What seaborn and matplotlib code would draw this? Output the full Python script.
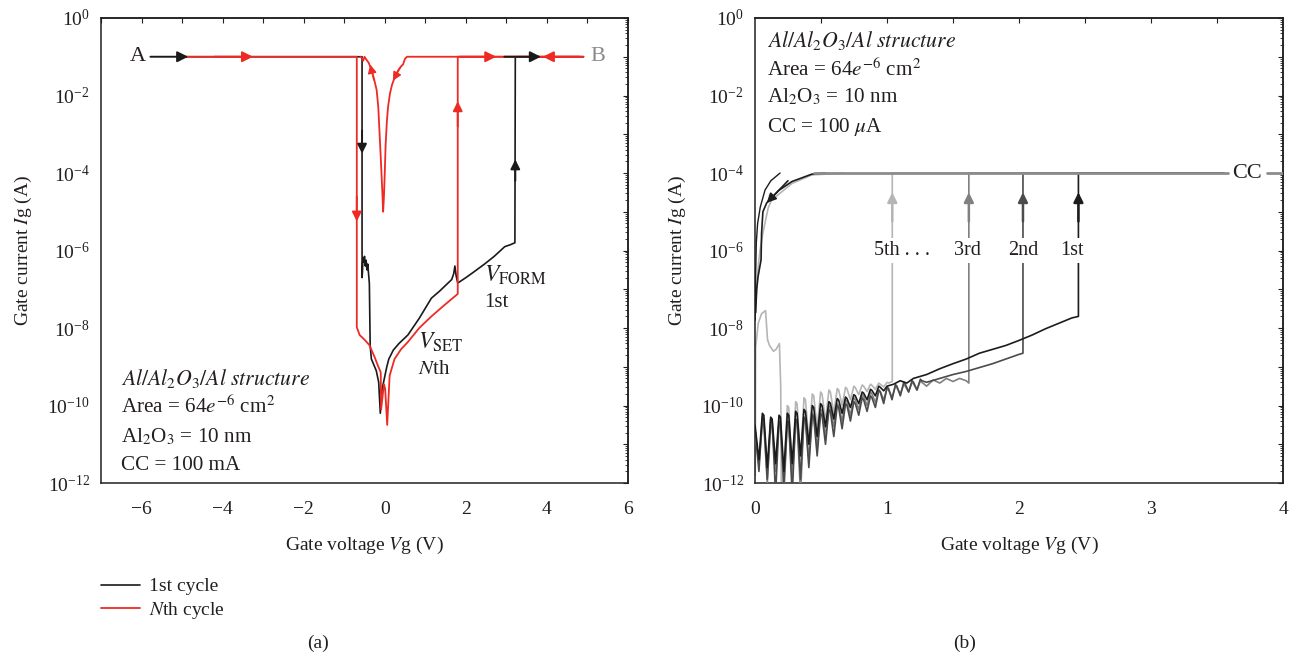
import numpy as np
import pandas as pd
import matplotlib
matplotlib.use("Agg")
import matplotlib.pyplot as plt
import seaborn as sns
from matplotlib.ticker import FixedLocator, LogLocator, NullFormatter, LogFormatterSciNotation

# ---------------- panel (a): bipolar I-V sweeps (log10 of current) ----------------
first_a_v = [-4.9, -0.56, -0.56, -0.55, -0.54, -0.52, -0.50, -0.48, -0.46, -0.44, -0.42, -0.40, -0.38,
             -0.36, -0.33, -0.27, -0.21, -0.15, -0.11, -0.07, -0.02, 0.05, 0.10, 0.21, 0.35, 0.57,
             0.85, 1.15, 1.35, 1.55, 1.65, 1.70, 1.73, 1.76, 1.80, 2.00, 2.20, 2.46, 2.70, 2.96,
             3.10, 3.21, 3.22, 4.9]
first_a_log = [-1.0, -1.0, -6.7, -6.55, -6.2, -6.3, -6.15, -6.4, -6.25, -6.5, -6.35, -6.6, -6.85,
               -8.45, -8.8, -8.95, -9.1, -9.4, -10.2, -9.6, -9.35, -9.0, -8.8, -8.57, -8.4, -8.18,
               -7.75, -7.23, -7.05, -6.85, -6.75, -6.6, -6.4, -6.65, -6.84, -6.7, -6.55, -6.35, -6.15, -5.9,
               -5.85, -5.8, -1.0, -1.0]

nth_a_v = [-4.9, -0.69, -0.69, -0.62, -0.50, -0.38, -0.25, -0.17, -0.10, -0.09, -0.02, 0.01, 0.06,
           0.12, 0.24, 0.40, 0.57, 0.85, 1.15, 1.48, 1.80, 1.80, 4.9]
nth_a_log = [-1.0, -1.0, -7.98, -8.18, -8.3, -8.44, -8.75, -8.97, -9.14, -10.1, -9.45, -9.57, -10.5,
             -9.23, -8.8, -8.55, -8.36, -8.0, -7.7, -7.4, -7.12, -1.0, -1.0]

# return sweep of the Nth cycle from B through zero bias (low-resistance state)
dip_a_v = [4.9, 0.55, 0.50, 0.45, 0.40, 0.33, 0.25, 0.18, 0.13, 0.08, 0.05, 0.02, 0.0, -0.02, -0.04,
           -0.06, -0.09, -0.12, -0.16, -0.20, -0.27, -0.33, -0.40, -0.45, -0.50, -0.53, -0.56, -0.60]
dip_a_log = [-1.0, -1.0, -1.05, -1.2, -1.25, -1.35, -1.52, -1.72, -1.94, -2.3, -2.7, -3.3, -4.0, -4.6, -5.0,
             -4.5, -3.8, -3.15, -2.3, -1.86, -1.55, -1.32, -1.15, -1.08, -1.0, -1.1, -1.04, -1.0]

# ---------------- panel (b): successive set sweeps (log10 of current) ----------------
# sampled trough / crest / crest positions of the low-bias oscillations
osc_v = [0.030, 0.056, 0.067, 0.093, 0.119, 0.130, 0.156, 0.182, 0.193, 0.219, 0.245, 0.256,
         0.282, 0.308, 0.319, 0.345, 0.371, 0.382, 0.408, 0.434, 0.445, 0.471, 0.497, 0.508,
         0.534, 0.560, 0.571, 0.597, 0.623, 0.634, 0.660, 0.686, 0.697, 0.723, 0.749, 0.760,
         0.786, 0.812, 0.823, 0.849, 0.875, 0.886, 0.912, 0.938, 0.949, 0.975, 1.001, 1.012,
         1.038, 1.064, 1.075, 1.101, 1.127, 1.138, 1.164, 1.190, 1.201, 1.227, 1.253, 1.264]

set1_v = [0.0] + osc_v[:45] + [0.975, 1.0, 1.05, 1.1, 1.15, 1.2, 1.3, 1.4, 1.5, 1.6, 1.7, 1.8, 1.9,
                                2.0, 2.1, 2.2, 2.3, 2.4, 2.45, 2.45, 3.55]
set1_log = [-10.5,
            -11.4, -10.2, -10.25, -11.6, -10.3, -10.35, -11.5, -10.25, -10.3,
            -11.7, -10.2, -10.25, -11.5, -10.15, -10.2, -11.3, -10.1, -10.15,
            -11.0, -10.0, -10.05, -10.8, -9.95, -10.0, -10.55, -9.9, -9.94,
            -10.35, -9.82, -9.86, -10.2, -9.78, -9.82, -10.05, -9.72, -9.75,
            -9.95, -9.65, -9.68, -9.85, -9.58, -9.61, -9.75, -9.5, -9.53,
            -9.62, -9.5, -9.45, -9.36, -9.42, -9.3, -9.2, -9.05, -8.92, -8.8, -8.65, -8.55, -8.45,
            -8.32, -8.18, -8.02, -7.88, -7.74, -7.7, -4.0, -4.0]

set2_v = [0.0] + osc_v + [1.30, 1.40, 1.50, 1.60, 1.70, 1.80, 1.90, 2.00, 2.03, 2.03, 3.55]
set2_log = [-10.6,
            -11.7, -10.3, -10.35, -11.9, -10.35, -10.4, -12.3, -10.4, -10.45,
            -12.0, -10.4, -10.45, -12.3, -10.35, -10.4, -11.9, -10.3, -10.35,
            -11.6, -10.25, -10.3, -11.3, -10.2, -10.25, -11.0, -10.1, -10.15,
            -10.8, -10.0, -10.05, -10.6, -9.95, -10.0, -10.4, -9.9, -9.95,
            -10.25, -9.8, -9.85, -10.15, -9.75, -9.8, -10.05, -9.6, -9.65,
            -9.95, -9.52, -9.56, -9.85, -9.46, -9.5, -9.75, -9.4, -9.44,
            -9.65, -9.36, -9.4, -9.6, -9.32, -9.36,
            -9.4, -9.3, -9.2, -9.12, -9.02, -8.92, -8.8, -8.68, -8.65, -4.0, -4.0]

set3_v = [0.0] + osc_v + [1.30, 1.35, 1.40, 1.45, 1.50, 1.55, 1.60, 1.62, 1.62, 3.55]
set3_log = [-10.7,
            -11.5, -10.45, -10.5, -12.0, -10.5, -10.55, -11.7, -10.45, -10.5,
            -12.3, -10.4, -10.45, -11.9, -10.35, -10.4, -12.3, -10.3, -10.35,
            -11.4, -10.2, -10.25, -11.1, -10.1, -10.15, -10.8, -10.0, -10.05,
            -10.55, -9.95, -10.0, -10.4, -9.85, -9.9, -10.25, -9.8, -9.85,
            -10.1, -9.72, -9.76, -10.0, -9.65, -9.7, -9.92, -9.6, -9.64,
            -9.85, -9.55, -9.6, -9.78, -9.5, -9.54, -9.7, -9.45, -9.5,
            -9.65, -9.4, -9.44, -9.6, -9.36, -9.4,
            -9.5, -9.34, -9.42, -9.3, -9.38, -9.3, -9.36, -9.42, -4.0, -4.0]

set5_v = [0.002, 0.005, 0.025, 0.05, 0.08, 0.095, 0.11, 0.14, 0.16, 0.185, 0.195, 0.20] + \
         osc_v[9:48] + [1.04, 1.04, 3.55]
set5_log = [-11.8, -8.5, -7.87, -7.63, -7.55, -8.3, -8.45, -8.6, -8.55, -8.4, -9.5, -12.3,
            -11.8, -10.0, -10.05, -11.9, -9.9, -9.95, -11.5, -9.8, -9.85,
            -10.9, -9.7, -9.75, -10.6, -9.65, -9.7, -10.4, -9.6, -9.65,
            -10.2, -9.56, -9.6, -10.0, -9.53, -9.57, -9.85, -9.5, -9.54,
            -9.72, -9.47, -9.5, -9.64, -9.45, -9.48, -9.58, -9.42, -9.45,
            -9.52, -9.4, -9.42,
            -9.38, -4.0, -4.0]

# reverse sweeps leaving the compliance level toward zero bias
ret1_v = [0.19, 0.12, 0.076, 0.04, 0.02, 0.01, 0.004, 0.002]
ret1_log = [-4.0, -4.2, -4.44, -4.88, -5.3, -5.8, -6.8, -7.8]
ret2_v = [0.53, 0.43, 0.28, 0.18, 0.089, 0.06, 0.05, 0.046, 0.023, 0.013, 0.005]
ret2_log = [-4.0, -4.03, -4.22, -4.45, -4.77, -5.0, -5.55, -6.24, -6.68, -7.0, -7.6]
ret5_v = [0.68, 0.43, 0.28, 0.126, 0.10, 0.06, 0.038, 0.025, 0.012, 0.004]
ret5_log = [-4.0, -4.05, -4.27, -4.7, -4.9, -5.55, -6.0, -6.4, -7.0, -7.6]

set_labels = ["5th . . .", "3rd", "2nd", "1st"]
set_label_v = [1.11, 1.61, 2.03, 2.40]
set_jump_v = [1.04, 1.62, 2.03, 2.45]

compliance_b = 1e-4

# ---------------- styling ----------------
sns.set_theme(style="white")
plt.rcParams['font.family'] = ['Liberation Serif', 'DejaVu Serif']
plt.rcParams['mathtext.fontset'] = 'stix'
plt.rcParams['axes.unicode_minus'] = True
TXT = '#231f20'
plt.rcParams['text.color'] = TXT
plt.rcParams['axes.labelcolor'] = TXT
plt.rcParams['xtick.color'] = TXT
plt.rcParams['ytick.color'] = TXT
plt.rcParams['axes.edgecolor'] = '#231f20'
plt.rcParams['axes.linewidth'] = 1.1

RED = '#ee2a24'
BLK = '#1a1a1a'
C1, C2, C3, C5 = '#1c1c1c', '#4b4b4b', '#808080', '#b5b5b5'
CCGRAY = '#8c8c8c'


def curve(v, logi):
    return pd.DataFrame({"V": v, "I": np.power(10.0, logi)})


def draw(ax, v, logi, color, lw=1.2, label=None, z=2):
    sns.lineplot(data=curve(v, logi), x="V", y="I", ax=ax, sort=False, estimator=None,
                 color=color, lw=lw, label=label, zorder=z, legend=bool(label),
                 solid_joinstyle='round')


def arrow(ax, tip, tail, color, ms=16, lw=1.4):
    ax.annotate('', xy=tip, xytext=tail,
                arrowprops=dict(arrowstyle='-|>', mutation_scale=ms, color=color, lw=lw,
                                shrinkA=0, shrinkB=0), zorder=6)


def style_axes(ax, xlim, xmajor, xminor, xtop):
    ax.set_yscale('log')
    ax.set_ylim(1e-12, 1)
    ax.set_xlim(*xlim)
    ax.xaxis.set_major_locator(FixedLocator(xmajor))
    ax.xaxis.set_minor_locator(FixedLocator(xminor))
    ax.yaxis.set_major_locator(FixedLocator([10.0 ** k for k in range(-12, 1, 2)]))
    ax.yaxis.set_minor_locator(LogLocator(base=10, subs=np.arange(1, 10), numticks=100))
    ax.yaxis.set_minor_formatter(NullFormatter())
    ax.yaxis.set_major_formatter(LogFormatterSciNotation())
    ax.tick_params(which='major', direction='out', length=5, width=1.0, labelsize=14,
                   top=False, right=False)
    ax.tick_params(axis='x', which='major', pad=8)
    ax.tick_params(axis='y', which='major', pad=3)
    ax.tick_params(which='minor', direction='in', length=3, width=0.7, top=False, right=False)
    for s in ax.spines.values():
        s.set_visible(True)
        s.set_color('#231f20')
    top = ax.secondary_xaxis('top')
    top.xaxis.set_major_locator(FixedLocator(xtop))
    top.tick_params(direction='in', length=3.5, width=0.8, labeltop=False)
    right = ax.secondary_yaxis('right')
    right.yaxis.set_major_locator(FixedLocator([10.0 ** k for k in range(-12, 1)]))
    right.yaxis.set_minor_locator(LogLocator(base=10, subs=np.arange(2, 10), numticks=100))
    right.tick_params(which='major', direction='in', length=3.5, width=0.8, labelright=False)
    right.tick_params(which='minor', direction='in', length=2.5, width=0.6, labelright=False)
    ax.set_xlabel("Gate voltage $V$g (V)", fontsize=14, labelpad=12)
    ax.set_ylabel("Gate current $I$g (A)", fontsize=14, labelpad=10)


fig = plt.figure(figsize=(12.93, 6.59), dpi=100)
ax1 = fig.add_axes([0.0781, 0.267, 0.4076, 0.7057])
ax2 = fig.add_axes([0.5839, 0.267, 0.4084, 0.7057])

# ---------------- panel (a) ----------------
draw(ax1, first_a_v, first_a_log, BLK, lw=1.2, label="1st cycle", z=2)
draw(ax1, nth_a_v, nth_a_log, RED, lw=1.3, label="$N$th cycle", z=3)
draw(ax1, dip_a_v, dip_a_log, RED, lw=1.3, z=3)
handles, labels = ax1.get_legend_handles_labels()
if ax1.get_legend():
    ax1.get_legend().remove()

style_axes(ax1, (-7, 6), list(range(-6, 7, 2)), list(range(-7, 7, 2)), list(range(-7, 7)))

# sweep-direction arrows
arrow(ax1, (-4.85, 0.1), (-5.78, 0.1), BLK)
arrow(ax1, (-3.25, 0.1), (-4.2, 0.1), RED)
arrow(ax1, (2.75, 0.1), (1.85, 0.1), RED)
arrow(ax1, (3.85, 0.1), (2.95, 0.1), BLK)
arrow(ax1, (3.9, 0.1), (4.8, 0.1), RED)
arrow(ax1, (-0.56, 10 ** -3.5), (-0.56, 10 ** -2.9), BLK, ms=14)
arrow(ax1, (-0.69, 10 ** -5.25), (-0.69, 10 ** -4.6), RED, ms=14)
arrow(ax1, (1.8, 10 ** -2.15), (1.8, 10 ** -2.8), RED, ms=14)
arrow(ax1, (3.22, 10 ** -3.65), (3.22, 10 ** -4.2), BLK, ms=14)
arrow(ax1, (-0.36, 10 ** -1.2), (-0.27, 10 ** -1.6), RED, ms=13, lw=1.0)
arrow(ax1, (0.2, 10 ** -1.62), (0.4, 10 ** -1.25), RED, ms=13, lw=1.0)

ax1.text(-6.1, 0.1, "A", fontsize=16, ha='center', va='center', color=TXT)
ax1.text(5.25, 0.1, "B", fontsize=16, ha='center', va='center', color='#8a8a8a')
ax1.text(2.45, 10 ** -6.63, r"$V_{\mathrm{FORM}}$", fontsize=17, ha='left', va='center')
ax1.text(2.45, 10 ** -7.35, "1st", fontsize=15, ha='left', va='center')
ax1.text(0.83, 10 ** -8.36, r"$V_{\mathrm{SET}}$", fontsize=17, ha='left', va='center')
ax1.text(0.83, 10 ** -9.08, "$N$th", fontsize=15, ha='left', va='center')

info_a = [r"$\mathit{Al/Al_2O_3/Al\ structure}$",
          r"Area = 64$\mathit{e}^{-6}$ cm$^2$",
          r"Al$_2$O$_3$ = 10 nm",
          "CC = 100 mA"]
info_size = [15.7, 15.2, 15.2, 15.2]
for s, lg, fs in zip(info_a, [-9.29, -10.02, -10.81, -11.56], info_size):
    ax1.text(-6.5, 10 ** lg, s, fontsize=fs, ha='left', va='center')

# ---------------- panel (b) ----------------
draw(ax2, set5_v, set5_log, C5, lw=1.2, z=2)
draw(ax2, set3_v, set3_log, C3, lw=1.2, z=3)
draw(ax2, set2_v, set2_log, C2, lw=1.2, z=4)
draw(ax2, set1_v, set1_log, C1, lw=1.2, z=5)
draw(ax2, ret5_v, ret5_log, C5, lw=1.2, z=2)
draw(ax2, ret2_v, ret2_log, C1, lw=1.2, z=5)
draw(ax2, ret1_v, ret1_log, C1, lw=1.0, z=5)
ax2.plot([0.45, 3.58], [compliance_b, compliance_b], color=CCGRAY, lw=2.0, zorder=6)
ax2.plot([3.88, 4.0], [compliance_b, compliance_b], color=CCGRAY, lw=2.0, zorder=6)

style_axes(ax2, (0, 4), [0, 1, 2, 3, 4], [0.5, 1.5, 2.5, 3.5], [0.5, 1, 1.5, 2, 2.5, 3, 3.5])

ax2.text(3.73, compliance_b, "CC", fontsize=16, ha='center', va='center', zorder=7)
for lab, lv, jv, col in zip(set_labels, set_label_v, set_jump_v, [C5, C3, C2, C1]):
    arrow(ax2, (jv, 10 ** -4.5), (jv, 10 ** -5.25), col, ms=14, lw=1.8)
    ax2.text(lv, 10 ** -6.0, lab, fontsize=14.5, ha='center', va='center', zorder=8,
             bbox=dict(boxstyle='square,pad=0.15', fc='white', ec='none'))
arrow(ax2, (0.089, 10 ** -4.77), (0.25, 10 ** -4.2), C1, ms=14, lw=1.2)

info_b = [r"$\mathit{Al/Al_2O_3/Al\ structure}$",
          r"Area = 64$\mathit{e}^{-6}$ cm$^2$",
          r"Al$_2$O$_3$ = 10 nm",
          r"CC = 100 $\mu$A"]
for s, lg, fs in zip(info_b, [-0.57, -1.34, -2.04, -2.81], info_size):
    ax2.text(0.09, 10 ** lg, s, fontsize=fs, ha='left', va='center')

# legend and panel tags
fig.legend(handles, labels, loc='upper left', bbox_to_anchor=(0.072, 0.135), frameon=False,
           fontsize=14, handlelength=2.0, handletextpad=0.5, labelspacing=0.25, borderaxespad=0)
fig.text(0.246, 0.024, "(a)", fontsize=14, ha='center', va='center')
fig.text(0.746, 0.024, "(b)", fontsize=14, ha='center', va='center')

fig.savefig("out.png", dpi=100)
